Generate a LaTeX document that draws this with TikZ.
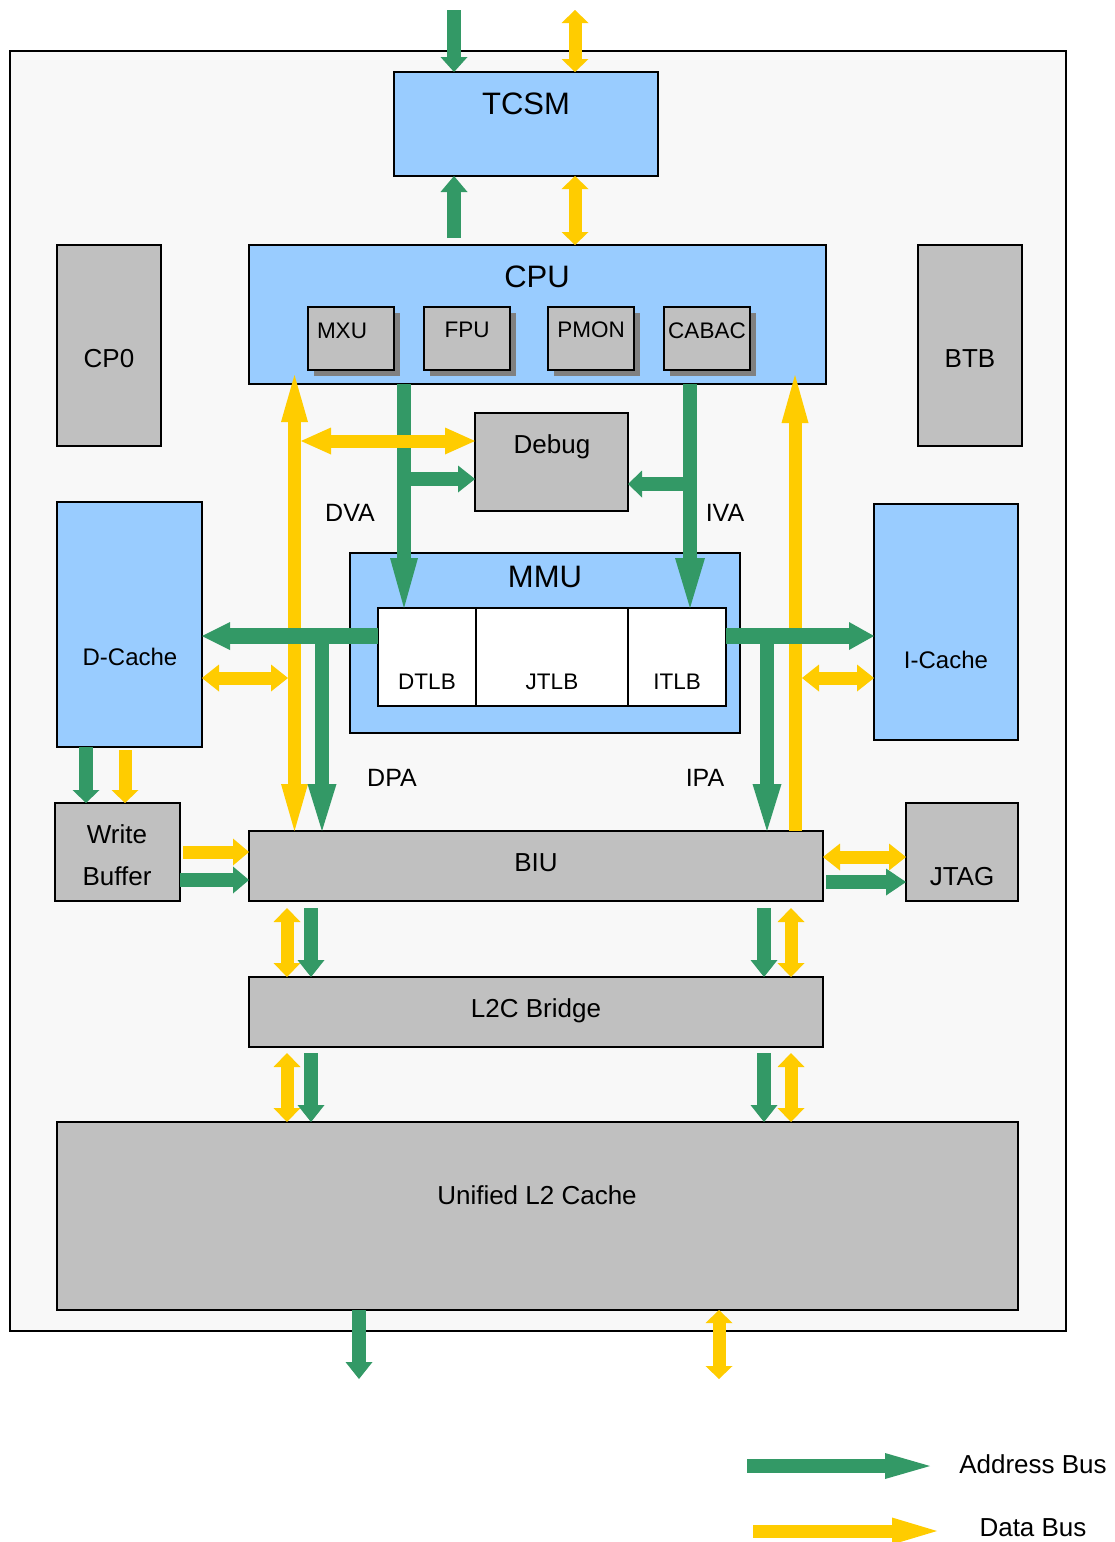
\documentclass[tikz,border=0pt]{standalone}
\usepackage{fontspec}
\setmainfont{Liberation Sans}
\usetikzlibrary{arrows.meta,shadows,calc}
\definecolor{boxblue}{HTML}{99CCFF}
\definecolor{boxgray}{HTML}{C0C0C0}
\definecolor{abusc}{HTML}{339966}
\definecolor{dbusc}{HTML}{FFCC00}
\definecolor{shadowc}{HTML}{808080}
\definecolor{bgc}{HTML}{F8F8F8}
\newcommand\mybox[6]{\node[#1,minimum width={(#5-#3)*1pt},minimum height={(#6-#4)*1pt}] (#2) at ({(#3+#5)/2},{(#4+#6)/2}) {};}
\tikzset{
  blk/.style={draw=black, line width=1.6pt, inner sep=0pt, outer sep=0pt},
  bluebox/.style={blk, fill=boxblue},
  graybox/.style={blk, fill=boxgray},
  whitebox/.style={blk, fill=white},
  subbox/.style={graybox, drop shadow={shadow xshift=6pt, shadow yshift=-6pt, fill=shadowc, opacity=1}},
  outerbox/.style={draw=black, line width=1.6pt, fill=bgc, inner sep=0pt},
  tbig/.style={inner sep=0pt, text depth=0pt, text height=22.2pt, font=\fontsize{31pt}{36pt}\selectfont},
  tmid/.style={inner sep=0pt, text depth=0pt, text height=18.6pt, font=\fontsize{26pt}{31pt}\selectfont},
  tlab/.style={inner sep=0pt, text depth=0pt, text height=17.9pt, font=\fontsize{25pt}{30pt}\selectfont},
  tcache/.style={inner sep=0pt, text depth=0pt, text height=17.2pt, font=\fontsize{24pt}{29pt}\selectfont},
  tsmall/.style={inner sep=0pt, text depth=0pt, text height=16.1pt, font=\fontsize{22.5pt}{27pt}\selectfont},
  gbus/.style={draw=abusc, line width=14pt},
  ybus/.style={draw=dbusc, line width=13pt},
  ga/.style={gbus, -{Triangle[width=27pt,length=#1,line width=0pt]}},
  ga/.default=16pt,
  gaw/.style={gbus, -{Triangle[width=29pt,length=#1,line width=0pt]}},
  ya/.style={ybus, -{Triangle[width=27pt,length=#1,line width=0pt]}},
  ya/.default=16pt,
  yaa/.style={ybus, {Triangle[width=27pt,length=#1,line width=0pt]}-{Triangle[width=27pt,length=#1,line width=0pt]}},
  yaa/.default=14pt,
}
\begin{document}
\begin{tikzpicture}[x=1pt,y=-1pt]
\useasboundingbox[fill=white] (0,0) rectangle (1115,1542);
% boxes
\mybox{outerbox}{outer}{10}{51}{1066}{1331}
\mybox{bluebox}{tcsm}{394}{72}{658}{176}
\mybox{bluebox}{cpu}{249}{245}{826}{384}
\mybox{subbox}{mxu}{308}{307}{394}{370}
\mybox{subbox}{fpu}{424}{307}{510}{370}
\mybox{subbox}{pmon}{548}{307}{634}{370}
\mybox{subbox}{cabac}{664}{307}{750}{370}
\mybox{graybox}{cp0}{57}{245}{161}{446}
\mybox{graybox}{btb}{918}{245}{1022}{446}
\mybox{graybox}{debug}{475}{413}{628}{511}
\mybox{bluebox}{mmu}{350}{553}{740}{733}
\mybox{whitebox}{dtlb}{378}{608}{476}{706}
\mybox{whitebox}{jtlb}{476}{608}{628}{706}
\mybox{whitebox}{itlb}{628}{608}{726}{706}
\mybox{bluebox}{dcache}{57}{502}{202}{747}
\mybox{bluebox}{icache}{874}{504}{1018}{740}
\mybox{graybox}{wbuf}{55}{803}{180}{901}
\mybox{graybox}{biu}{249}{831}{823}{901}
\mybox{graybox}{jtag}{906}{803}{1018}{901}
\mybox{graybox}{l2c}{249}{977}{823}{1047}
\mybox{graybox}{l2}{57}{1122}{1018}{1310}
% labels
\node[tbig] (tcsmT) at (526,103) {TCSM};
\node[tbig] (cpuT) at (537,276) {CPU};
\node[tsmall] (mxuT) at (342,330) {MXU};
\node[tsmall] (fpuT) at (467,329) {FPU};
\node[tsmall] (pmonT) at (591,329) {PMON};
\node[tsmall] (cabacT) at (707,330) {CABAC};
\node[tmid] (cp0T) at (109,358) {CP0};
\node[tmid] (btbT) at (970,358) {BTB};
\node[tmid] (debugT) at (552,444) {Debug};
\node[tlab] (dvaT) at (350,513) {DVA};
\node[tlab] (ivaT) at (725,513) {IVA};
\node[tbig] (mmuT) at (545,576) {MMU};
\node[tcache] (dcacheT) at (130,657) {D-Cache};
\node[tcache] (icacheT) at (946,660) {I-Cache};
\node[tsmall] (dtlbT) at (427,681) {DTLB};
\node[tsmall] (jtlbT) at (552,681) {JTLB};
\node[tsmall] (itlbT) at (677,681) {ITLB};
\node[tlab] (dpaT) at (392,778) {DPA};
\node[tlab] (ipaT) at (705,778) {IPA};
\node[tmid] (wbT1) at (117,834) {Write};
\node[tmid] (wbT2) at (117,876) {Buffer};
\node[tmid] (biuT) at (536,862) {BIU};
\node[tmid] (jtagT) at (962,876) {JTAG};
\node[tmid] (l2cT) at (536,1008) {L2C Bridge};
\node[tmid] (l2T) at (537,1195) {Unified L2 Cache};
\node[tmid] (legA) at (1033,1464) {Address Bus};
\node[tmid] (legD) at (1033,1527) {Data Bus};
% free ends
\coordinate (ain) at (454,10);
\coordinate (din) at (575,10);
\coordinate (aout) at (359,1379);
\coordinate (dout) at (719,1379);
% TCSM connections
\draw[ga=15pt] (ain) -- (tcsm.north -| ain);
\draw[yaa=13pt] (din) -- (tcsm.north -| din);
\draw[ga=16pt] ($(cpu.north -| ain)+(0,-7)$) -- (tcsm.south -| ain);
\draw[yaa=13pt] (cpu.north -| din) -- (tcsm.south -| din);
% long yellow verticals
\draw[yaa=47pt] (biu.north -| 294.5,0) -- ($(cpu.south -| 294.5,0)+(0,-9)$);
\draw[ya=48pt] (biu.north -| 795,0) -- ($(cpu.south -| 795,0)+(0,-9)$);
% CPU to MMU
\draw[gbus, -{Triangle[width=28pt,length=50pt,line width=0pt]}] (cpu.south -| 404,0) -- (dtlb.north -| 404,0);
\draw[gbus, -{Triangle[width=30pt,length=50pt,line width=0pt]}] (cpu.south -| 690,0) -- (itlb.north -| 690,0);
% Debug
\coordinate (dbgY) at (301,441);
\draw[yaa=30pt] (dbgY) -- (debug.west |- dbgY);
\coordinate (dbgG1) at (411,479);
\draw[ga=17pt] (dbgG1) -- (debug.west |- dbgG1);
\coordinate (dbgG2) at (683,484);
\draw[ga=14pt] (dbgG2) -- (debug.east |- dbgG2);
% MMU to caches
\coordinate (hl) at (0,636);
\draw[draw=abusc, line width=16pt, -{Triangle[width=28pt,length=28pt,line width=0pt]}] (dtlb.west |- hl) -- (dcache.east |- hl);
\draw[draw=abusc, line width=16pt, -{Triangle[width=28pt,length=25pt,line width=0pt]}] (itlb.east |- hl) -- (icache.west |- hl);
\coordinate (brL) at (322,636);
\coordinate (brR) at (767,636);
\draw[gaw=47pt] (brL) -- (biu.north -| brL);
\draw[gaw=47pt] (brR) -- (biu.north -| brR);
\coordinate (dL) at (288,678);
\coordinate (dR) at (802,678);
\draw[yaa=17pt] (dcache.east |- dL) -- (dL);
\draw[yaa=17pt] (dR) -- (icache.west |- dR);
% D-Cache to Write Buffer
\draw[ga=13pt] (dcache.south -| 86,0) -- (wbuf.north -| 86,0);
\draw[ya=13pt] ($(dcache.south -| 125,0)+(0,3)$) -- (wbuf.north -| 125,0);
% Write Buffer to BIU
\draw[ya=16pt] ($(wbuf.east |- 0,852)+(3,0)$) -- (biu.west |- 0,852);
\draw[ga=16pt] (wbuf.east |- 0,880) -- (biu.west |- 0,880);
% BIU to JTAG
\draw[yaa=17pt] (biu.east |- 0,857) -- (jtag.west |- 0,857);
\draw[ga=20pt] ($(biu.east |- 0,882)+(3,0)$) -- (jtag.west |- 0,882);
% BIU to L2C
\draw[yaa=14pt] ($(biu.south -| 287,0)+(0,7)$) -- (l2c.north -| 287,0);
\draw[ga=17pt] ($(biu.south -| 311,0)+(0,7)$) -- (l2c.north -| 311,0);
\draw[ga=17pt] ($(biu.south -| 764,0)+(0,7)$) -- (l2c.north -| 764,0);
\draw[yaa=14pt] ($(biu.south -| 791,0)+(0,7)$) -- (l2c.north -| 791,0);
% L2C to L2
\draw[yaa=14pt] ($(l2c.south -| 287,0)+(0,6)$) -- (l2.north -| 287,0);
\draw[ga=17pt] ($(l2c.south -| 311,0)+(0,6)$) -- (l2.north -| 311,0);
\draw[ga=17pt] ($(l2c.south -| 764,0)+(0,6)$) -- (l2.north -| 764,0);
\draw[yaa=14pt] ($(l2c.south -| 791,0)+(0,6)$) -- (l2.north -| 791,0);
% bottom
\draw[ga=17pt] (l2.south -| aout) -- (aout);
\draw[yaa=13pt] (l2.south -| dout) -- (dout);
% legend
\coordinate (lgA1) at (747,1466);
\coordinate (lgA2) at (930,1466);
\coordinate (lgD1) at (753,1531);
\coordinate (lgD2) at (937,1531);
\draw[gbus, -{Triangle[width=26pt,length=45pt,line width=0pt]}] (lgA1) -- (lgA2);
\draw[ybus, -{Triangle[width=27pt,length=45pt,line width=0pt]}] (lgD1) -- (lgD2);
\end{tikzpicture}
\end{document}
